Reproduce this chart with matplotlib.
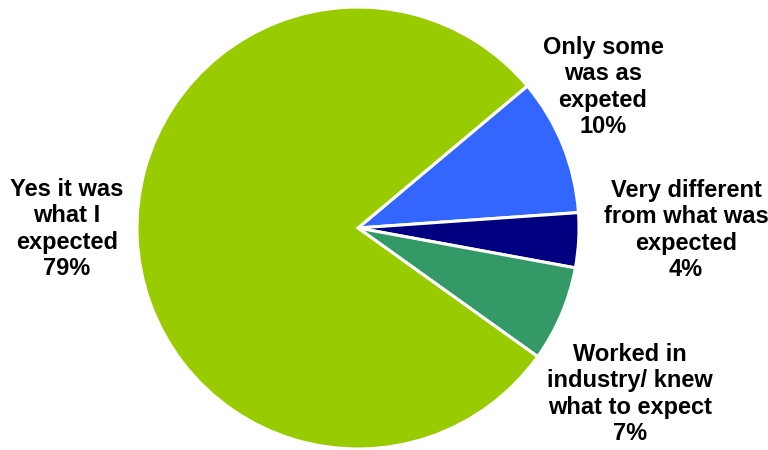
import matplotlib
matplotlib.use("Agg")
import matplotlib.pyplot as plt

categories = ["Only some\nwas as\nexpeted", "Very different\nfrom what was\nexpected",
              "Worked in\nindustry/ knew\nwhat to expect", "Yes it was\nwhat I\nexpected"]
values = [10, 4, 7, 79]
colors = ["#3366FF", "#000080", "#339966", "#99CC00"]

plt.rcParams['font.family'] = ['Liberation Sans', 'DejaVu Sans']

fig = plt.figure(figsize=(7.68, 4.5), dpi=100)
ax = fig.add_axes([0, 0, 1, 1])

cx, cy, r = 358, 450 - 228, 221
ax.pie(values, colors=colors, startangle=40, counterclock=False,
       center=(cx, cy), radius=r, frame=True,
       wedgeprops=dict(edgecolor='white', linewidth=2.2))
ax.set_xlim(0, 768)
ax.set_ylim(0, 450)
ax.set_aspect('equal')
ax.axis('off')

label_pos = [(603, 450 - 87), (686, 450 - 230), (630, 450 - 394), (67, 450 - 229)]
for cat, val, (x, y) in zip(categories, values, label_pos):
    ax.text(x, y, f"{cat}\n{val}%", ha='center', va='center', fontsize=17,
            fontweight='bold', linespacing=1.17, color='black')

fig.savefig("out.png", dpi=100)
